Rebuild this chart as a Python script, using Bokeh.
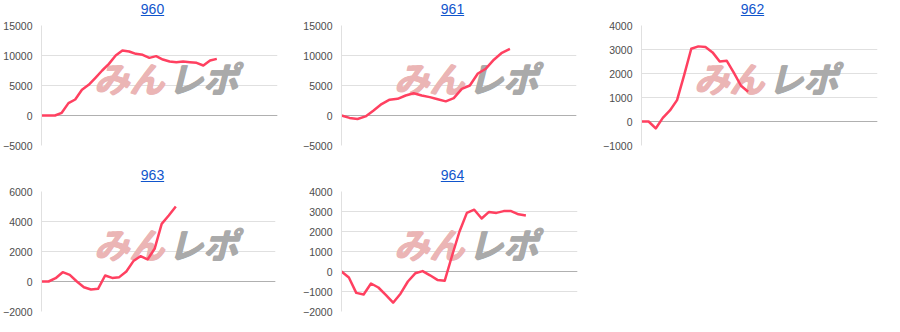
from bokeh.plotting import figure
from bokeh.models import Range1d, FixedTicker, Span, Label, Div
from bokeh.layouts import column, row
from bokeh.embed import file_html
from bokeh.resources import INLINE

titles = ["960", "961", "962", "963", "964"]

s960 = [0, 0, 0, 450, 2060, 2670, 4280, 5110, 6280, 7500, 8610, 10000, 10830, 10670,
        10280, 10110, 9610, 9890, 9330, 9000, 8890, 9000, 8890, 8780, 8330, 9170, 9440]
s961 = [0, -400, -580, -150, 850, 1900, 2640, 2780, 3330, 3720, 3330, 3060, 2700, 2360,
        2900, 4440, 5000, 7000, 7800, 9300, 10450, 11110]
s962 = [0, 0, -290, 150, 460, 890, 1930, 3030, 3130, 3100, 2880, 2500, 2530, 2030, 1490, 1240]
s963 = [0, 0, 220, 620, 440, 0, -380, -530, -490, 400, 240, 290, 670, 1360, 1690, 1470,
        2180, 3840, 4400, 5000]
s964 = [0, -300, -1070, -1150, -600, -800, -1170, -1560, -1110, -500, -90, 20, -190, -420,
        -460, 800, 2000, 2930, 3090, 2650, 2980, 2930, 3020, 3020, 2860, 2800]

ticks960 = [-5000, 0, 5000, 10000, 15000]
ticks961 = [-5000, 0, 5000, 10000, 15000]
ticks962 = [-1000, 0, 1000, 2000, 3000, 4000]
ticks963 = [-2000, 0, 2000, 4000, 6000]
ticks964 = [-2000, -1000, 0, 1000, 2000, 3000, 4000]

# x-axis extent (in point slots) of each panel
xspan = [35, 29.3, 33.2, 33.1, 32]

LINE = "#ff4060"
GRID = "#e0e0e0"
ZERO = "#b0b0b0"
LINK = "#1155cc"


def panel(title, ys, yticks, xmax, left, right):
    xs = list(range(len(ys)))
    d = Div(
        text=('<div style="width:300px;box-sizing:border-box;text-align:center;'
              'padding-left:5px;padding-top:1px;'
              'font:14px/16px \'Liberation Sans\',Arial,sans-serif;">'
              '<a href="#" style="color:%s;text-decoration:underline;">%s</a></div>') % (LINK, title),
        width=300, height=19, margin=0, styles={"text-align": "center"})
    p = figure(width=300, height=147, output_backend="svg", toolbar_location=None,
               x_range=Range1d(0, xmax), y_range=Range1d(yticks[0], yticks[-1]),
               min_border_left=left, min_border_right=right,
               min_border_top=6, min_border_bottom=21)
    p.outline_line_color = None
    p.background_fill_color = "white"
    p.border_fill_color = "white"
    p.xaxis.visible = False
    p.xgrid.visible = False
    p.ygrid.grid_line_color = GRID
    p.ygrid.grid_line_width = 1
    p.yaxis.ticker = FixedTicker(ticks=yticks)
    p.yaxis.major_tick_out = 0
    p.yaxis.major_tick_in = 0
    p.yaxis.minor_tick_out = 0
    p.yaxis.minor_tick_in = 0
    p.yaxis.axis_line_color = GRID
    p.yaxis.major_label_standoff = 9
    p.yaxis.major_label_text_font = "Liberation Sans"
    p.yaxis.major_label_text_font_size = "10.5px"
    p.yaxis.major_label_text_color = "#4d4d4d"
    p.add_layout(Span(location=0, dimension="width", line_color=ZERO, line_width=1,
                      level="underlay"))
    # watermark logo (drawn a few times with small offsets to look heavier)
    for dx, dy in [(0, 0), (1, 0), (0.5, 0.7), (1.5, 0.7)]:
        p.add_layout(Label(x=52 + dx, y=68 + dy, x_units="screen", y_units="screen",
                           text="みん", text_font="Noto Sans CJK JP", text_font_size="35px",
                           text_font_style="bold italic", text_color="#ebb5b5",
                           text_baseline="middle", text_align="left", level="underlay"))
        p.add_layout(Label(x=126 + dx, y=68 + dy, x_units="screen", y_units="screen",
                           text="レポ", text_font="Noto Sans CJK JP", text_font_size="35px",
                           text_font_style="bold italic", text_color="#aaaaaa",
                           text_baseline="middle", text_align="left", level="underlay"))
    p.line(xs, ys, line_color=LINE, line_width=2.5, line_join="round")
    return column(d, p)


c0 = panel(titles[0], s960, ticks960, xspan[0], 41, 23)
c1 = panel(titles[1], s961, ticks961, xspan[1], 39, 24)
c2 = panel(titles[2], s962, ticks962, xspan[2], 39, 23)
c3 = panel(titles[3], s963, ticks963, xspan[3], 37, 25)
c4 = panel(titles[4], s964, ticks964, xspan[4], 39, 23)

layout = column(row(c0, c1, c2), row(c3, c4))

open("out.html", "w").write(file_html(layout, INLINE))
